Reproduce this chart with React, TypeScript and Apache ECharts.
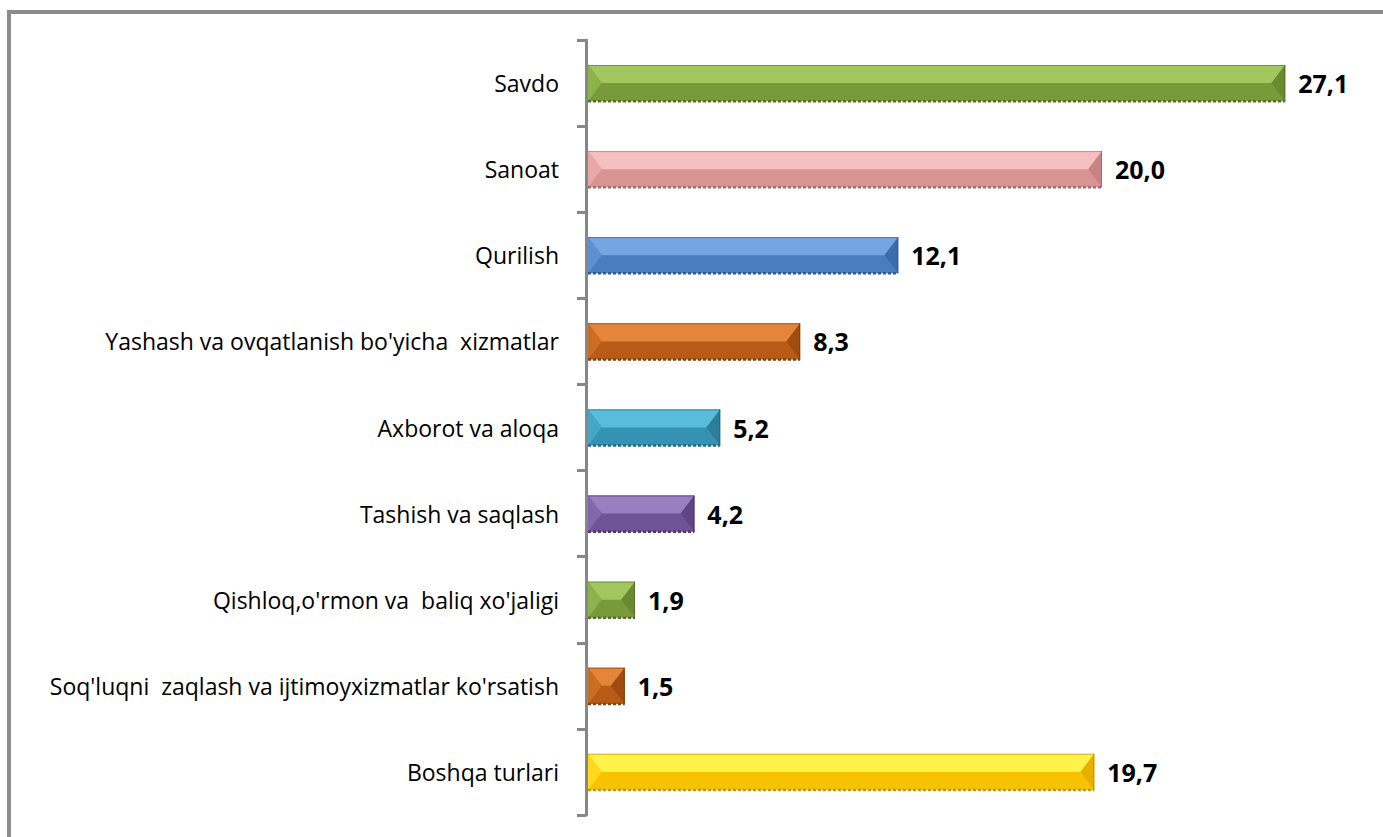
import React, { useEffect, useRef } from "react";
import * as echarts from "echarts";

const categories = [
  "Savdo",
  "Sanoat",
  "Qurilish",
  "Yashash va ovqatlanish bo'yicha  xizmatlar",
  "Axborot va aloqa",
  "Tashish va saqlash",
  "Qishloq,o'rmon va  baliq xo'jaligi",
  "Soq'luqni  zaqlash va ijtimoyxizmatlar ko'rsatish",
  "Boshqa turlari",
];

const values = [27.1, 20.0, 12.1, 8.3, 5.2, 4.2, 1.9, 1.5, 19.7];

// palette: [top bevel, face, left bevel, right bevel, bottom edge]
const palettes = [
  ["#a2c75e", "#789a3a", "#8cb24b", "#6a8a31", "#56702a"],
  ["#f6c0c0", "#d89494", "#e8a8a8", "#c98383", "#a86a6a"],
  ["#75a5e3", "#4a7cc0", "#5e90d2", "#3e6cab", "#335a90"],
  ["#e4853a", "#b85b16", "#cc6d24", "#a04c10", "#84400e"],
  ["#58bdda", "#3592b2", "#45a6c6", "#2c7e9a", "#246880"],
  ["#9a7fc0", "#6e5396", "#8267aa", "#5f4683", "#4e396c"],
  ["#a2c75e", "#789a3a", "#8cb24b", "#6a8a31", "#56702a"],
  ["#e4853a", "#b85b16", "#cc6d24", "#a04c10", "#84400e"],
  ["#fff24a", "#f7c300", "#ffd91a", "#e8ae00", "#c99600"],
];

const fmt = (v: number) => v.toFixed(1).replace(".", ",");

export default function App() {
  const ref = useRef<HTMLDivElement>(null);
  useEffect(() => {
    document.body.style.margin = "0";
    const chart = echarts.init(ref.current!, undefined, { renderer: "svg" });
    chart.setOption({
      animation: false,
      backgroundColor: "#ffffff",
      graphic: [
        {
          type: "rect",
          shape: { x: 9, y: 12, width: 1450, height: 900 },
          style: { fill: "none", stroke: "#8c8c8c", lineWidth: 4 },
          silent: true,
          z: 100,
        },
      ],
      grid: { left: 586, right: 23, top: 40, bottom: 22, containLabel: false },
      xAxis: {
        type: "value",
        min: 0,
        max: 30,
        show: false,
      },
      yAxis: {
        type: "category",
        data: categories,
        inverse: true,
        axisLine: { show: true, lineStyle: { color: "#878787", width: 3 } },
        axisTick: { show: true, length: 9, lineStyle: { color: "#878787", width: 3 } },
        axisLabel: {
          color: "#000000",
          fontFamily: "Open Sans",
          fontSize: 23,
          margin: 27,
        },
        splitLine: { show: false },
      },
      series: [
        {
          type: "custom",
          data: values.map((v, i) => [v, i]),
          encode: { x: 0, y: 1 },
          renderItem: (params: any, api: any) => {
            const v = api.value(0);
            const idx = api.value(1);
            const p0 = api.coord([0, idx]);
            const p1 = api.coord([v, idx]);
            const band = api.size([0, 1])[1];
            const h = band * 0.42;
            const x0 = p0[0] + 2;
            const x1 = p1[0];
            const cy = p0[1];
            const yt = cy - h / 2;
            const yb = cy + h / 2;
            const ym = yt + h * 0.5;
            const w = x1 - x0;
            const b = Math.min(h * 0.38, w / 2);
            const c = palettes[idx];
            return {
              type: "group",
              children: [
                { type: "rect", shape: { x: x0, y: yt, width: w, height: h }, style: { fill: c[1] } },
                {
                  type: "polygon",
                  shape: { points: [[x0, yt], [x1, yt], [x1 - b, ym], [x0 + b, ym]] },
                  style: { fill: c[0] },
                },
                {
                  type: "polygon",
                  shape: { points: [[x0, yt], [x0 + b, ym], [x0, yb]] },
                  style: { fill: c[2] },
                },
                {
                  type: "polygon",
                  shape: { points: [[x1, yt], [x1 - b, ym], [x1, yb]] },
                  style: { fill: c[3] },
                },
                {
                  type: "line",
                  shape: { x1: x0, y1: yt + 0.5, x2: x1, y2: yt + 0.5 },
                  style: { stroke: c[4], lineWidth: 1, opacity: 0.6 },
                },
                {
                  type: "line",
                  shape: { x1: x1 - 0.5, y1: yt, x2: x1 - 0.5, y2: yb },
                  style: { stroke: c[4], lineWidth: 1 },
                },
                {
                  type: "line",
                  shape: { x1: x0, y1: yb, x2: x1, y2: yb },
                  style: { stroke: c[4], lineWidth: 2.5, lineDash: [3, 2] },
                },
                {
                  type: "text",
                  style: {
                    text: fmt(v),
                    x: x1 + 13,
                    y: cy,
                    align: "left",
                    verticalAlign: "middle",
                    fontFamily: "Open Sans",
                    fontWeight: "bold",
                    fontSize: 25,
                    fill: "#000000",
                  },
                },
              ],
            };
          },
        },
      ],
    });
    return () => chart.dispose();
  }, []);
  return (
    <div
      ref={ref}
      style={{ position: "absolute", left: 0, top: 0, width: 1383, height: 837 }}
    />
  );
}
